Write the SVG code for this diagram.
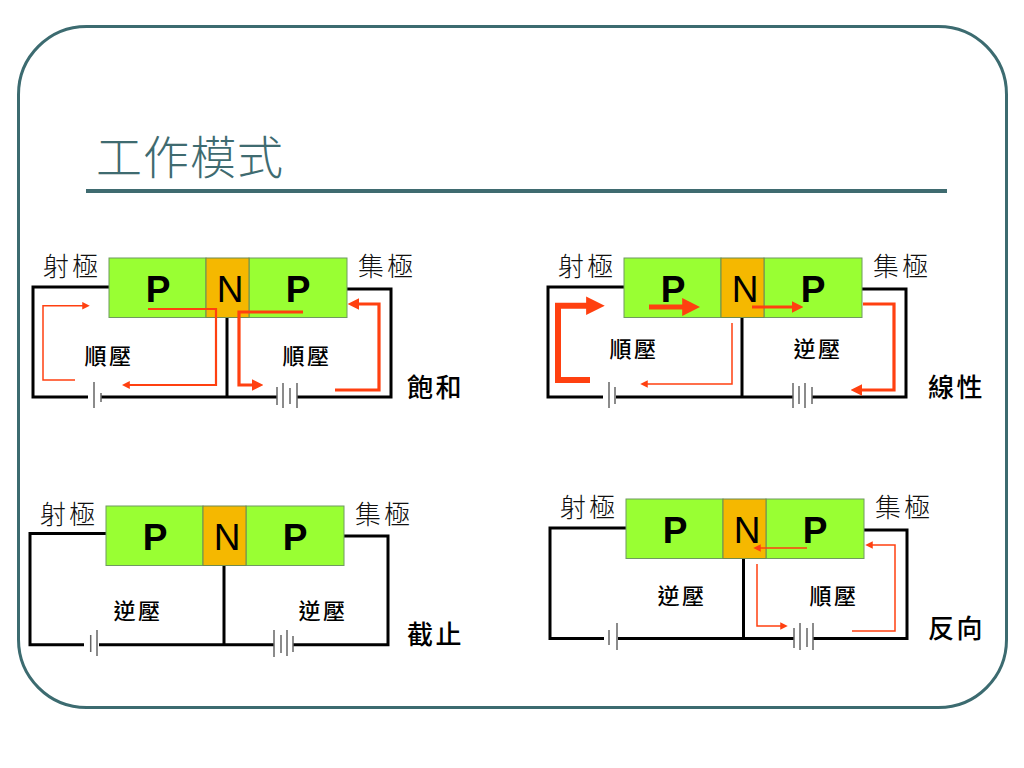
<svg xmlns="http://www.w3.org/2000/svg" width="1024" height="768" viewBox="0 0 1024 768">
<style>
.cjk{font-family:"Noto Sans CJK TC","Noto Sans CJK SC",sans-serif}
.title{font-size:46px;font-weight:300;fill:#3f6b70;letter-spacing:1px}
.el{font-size:26px;font-weight:300;fill:#111;letter-spacing:3px}
.volt{font-size:22px;font-weight:500;fill:#000;letter-spacing:2.500px;text-anchor:middle}
.mode{font-size:26px;font-weight:500;fill:#000;letter-spacing:2.500px}
.p{font:bold 37px "Liberation Sans",Arial,sans-serif;fill:#000;text-anchor:middle}
.n{font:37px "Liberation Sans",Arial,sans-serif;fill:#000;text-anchor:middle}
.g{fill:#99ff33;stroke:#6f9a60;stroke-width:1}
.o{fill:#f5b800;stroke:#6f8a50;stroke-width:1}
.w{fill:none;stroke:#000;stroke-width:3;stroke-linejoin:miter}
.b{fill:none;stroke:#666;stroke-width:1.500}
.a{fill:none;stroke:#ff4010;stroke-linejoin:miter}
.t1{stroke-width:1.500;marker-end:url(#hs)}
.t2{stroke-width:2.200;marker-end:url(#hm)}
.t3{stroke-width:3.200;marker-end:url(#hm)}
.t5{stroke-width:5;marker-end:url(#hm)}
.t6{stroke-width:6;marker-end:url(#hl)}
</style>
<defs>
<marker id="hs" viewBox="0 0 10 10" refX="1" refY="5" markerWidth="5" markerHeight="5.400" orient="auto"><path d="M0 0L10 5L0 10z" fill="#ff4010"/></marker>
<marker id="hm" viewBox="0 0 10 10" refX="1" refY="5" markerWidth="3.600" markerHeight="3.600" orient="auto"><path d="M0 0L10 5L0 10z" fill="#ff4010"/></marker>
<marker id="hl" viewBox="0 0 10 10" refX="1" refY="5" markerWidth="3.200" markerHeight="3.100" orient="auto"><path d="M0 0L10 5L0 10z" fill="#ff4010"/></marker>
<g id="device">
<rect class="g" x="109" y="258" width="97" height="59.500"/>
<rect class="g" x="249" y="258" width="98" height="59.500"/>
<rect class="o" x="206" y="258" width="43" height="59.500"/>
<text class="p" x="158" y="302">P</text>
<text class="n" x="230" y="302">N</text>
<text class="p" x="298" y="302">P</text>
<text class="cjk el" x="43" y="276">射極</text>
<text class="cjk el" x="358" y="276">集極</text>
</g>
</defs>
<rect id="frame" x="18.500" y="26.500" width="988" height="681" rx="68" ry="68" fill="#fff" stroke="#3c6b70" stroke-width="3"/>
<text id="title" class="cjk title" x="96" y="174">工作模式</text>
<line id="title-rule" x1="86" y1="191" x2="947" y2="191" stroke="#3f6b70" stroke-width="4"/>
<g id="connectors">
<path class="w" d="M109 287H33V397H88M101 397H277M297 397H391V289H347M227 317V397"/>
<path class="b" d="M94 382V408M101 393V402M277 387V405M283 383V408M290 388V404M297 383V408"/>
<path class="w" d="M624 287H548V397H603M616 397H793M812 397H906V289H862M742 317V397"/>
<path class="b" d="M609 382V408M615 387V404M793 383V408M799 386V404M805 383V408M812 387V404"/>
<path class="w" d="M106 533.500H30V644.700H84M99 644.700H274M293 644.700H388V536H344M224 565V644.700"/>
<path class="b" d="M90.700 635V652M97 630V656M274 630V657M281 635V653M287 630V656M293 636V652"/>
<path class="w" d="M626 528H550V638.500H604M618 638.500H794M813 638.500H907V530H863M743.500 558V638.500"/>
<path class="b" d="M609 630V645M617 623V650M794 628V648M800 623V650M807 628V647M813 623V650"/>
</g>
<g id="transistor-saturation"><use href="#device"/></g>
<g id="transistor-linear"><use href="#device" transform="translate(515 0)"/></g>
<g id="transistor-cutoff"><use href="#device" transform="translate(-3 248)"/></g>
<g id="transistor-reverse"><use href="#device" transform="translate(517 241)"/></g>
<g id="labels" class="cjk">
<text class="volt" x="109" y="364">順壓</text>
<text class="volt" x="307" y="364">順壓</text>
<text class="volt" x="634" y="357">順壓</text>
<text class="volt" x="818" y="357">逆壓</text>
<text class="volt" x="138" y="619">逆壓</text>
<text class="volt" x="323" y="619">逆壓</text>
<text class="volt" x="682" y="604">逆壓</text>
<text class="volt" x="834" y="604">順壓</text>
<text class="mode" x="407" y="397">飽和</text>
<text class="mode" x="928" y="397">線性</text>
<text class="mode" x="407" y="644">截止</text>
<text class="mode" x="928" y="638">反向</text>
</g>
<g id="current-arrows">
<path class="a t1" d="M75 380H43V305.700H83"/>
<path class="a t2" d="M148 309H216V385H129"/>
<path class="a t3" d="M303 312H239V385H253"/>
<path class="a t3" d="M335 390H379V304H358"/>
<path class="a t6" d="M590 380H558V305.700H588"/>
<path class="a t5" d="M649 307H684"/>
<path class="a t3" d="M752 307H793"/>
<path class="a t1" d="M732 323V384H647"/>
<path class="a t3" d="M863 304H894V390H861"/>
<path class="a t1" d="M807 548H760"/>
<path class="a t1" d="M757 564V626H781"/>
<path class="a t1" d="M852 631H895V545H872"/>
</g>
</svg>
